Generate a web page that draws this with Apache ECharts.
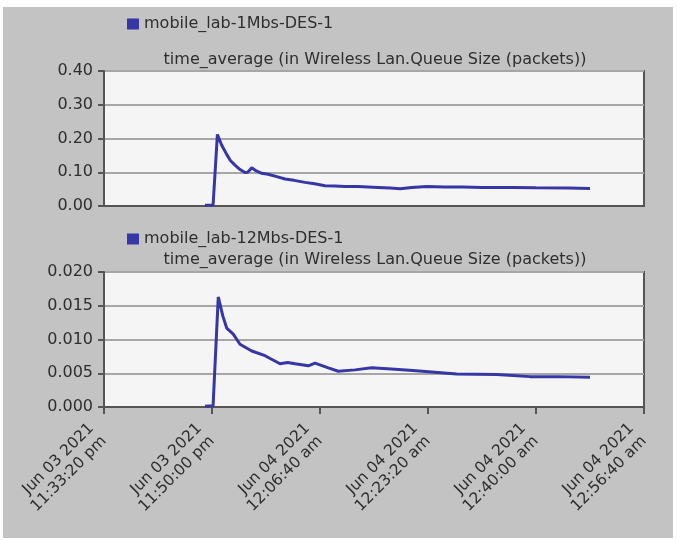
<!DOCTYPE html>
<html lang="en">
  <head>
    <meta charset="UTF-8" />
    <title>Queue Size</title>
    <script src="https://cdn.jsdelivr.net/npm/echarts@6/dist/echarts.min.js"></script>
    <style>
      body { margin: 0; background: #fff; }
    </style>
  </head>

  <body>
    <div id="main" style="width: 677px; height: 541px"></div>

    <script>
      // seconds since Jun 03 2021 11:33:20 pm
      var xTickLabels = [
        "Jun 03 2021\n11:33:20 pm",
        "Jun 03 2021\n11:50:00 pm",
        "Jun 04 2021\n12:06:40 am",
        "Jun 04 2021\n12:23:20 am",
        "Jun 04 2021\n12:40:00 am",
        "Jun 04 2021\n12:56:40 am",
      ];
      var seriesNames = ["mobile_lab-1Mbs-DES-1", "mobile_lab-12Mbs-DES-1"];
      var chartTitle = "time_average (in Wireless Lan.Queue Size (packets))";

      var t1 = [935, 1010, 1050, 1090, 1136, 1170, 1213, 1260, 1306, 1330, 1368, 1410, 1460, 1519, 1600, 1676, 1760, 1861, 1950, 2046, 2140, 2231, 2350, 2537, 2650, 2741, 2850, 2988, 3150, 3324, 3500, 3787, 4000, 4300, 4500];
      var v1 = [0.002, 0.003, 0.212, 0.18, 0.153, 0.135, 0.121, 0.108, 0.099, 0.1, 0.113, 0.104, 0.097, 0.094, 0.087, 0.08, 0.076, 0.07, 0.066, 0.06, 0.059, 0.058, 0.058, 0.055, 0.053, 0.051, 0.055, 0.058, 0.056, 0.056, 0.055, 0.055, 0.054, 0.053, 0.052];

      var t2 = [935, 1010, 1058, 1100, 1136, 1197, 1259, 1368, 1491, 1630, 1700, 1769, 1892, 1954, 2077, 2169, 2324, 2479, 2694, 2861, 3266, 3636, 3944, 4200, 4500];
      var v2 = [0.0001, 0.0002, 0.0163, 0.0135, 0.0117, 0.0108, 0.0093, 0.0083, 0.0076, 0.0064, 0.0066, 0.0064, 0.0061, 0.0065, 0.0058, 0.0053, 0.0055, 0.0058, 0.0056, 0.0054, 0.0049, 0.0048, 0.0045, 0.0045, 0.0044];

      function pairs(t, v) {
        var out = [];
        for (var i = 0; i < t.length; i++) out.push([t[i], v[i]]);
        return out;
      }

      var font = "DejaVu Sans";
      var lineColor = "#3636a6";
      var dark = "#555";
      var textColor = "#2e2e2e";

      var myChart = echarts.init(document.getElementById("main"));

      function yAxis(idx, max, step, digits) {
        return {
          type: "value",
          gridIndex: idx,
          min: 0,
          max: max,
          interval: step,
          axisLine: { show: true, lineStyle: { color: dark, width: 2 } },
          axisTick: { show: true, length: 6, lineStyle: { color: dark, width: 2 } },
          axisLabel: {
            color: textColor,
            fontFamily: font,
            fontSize: 16,
            margin: 11,
            formatter: function (v) { return v.toFixed(digits); },
          },
          splitLine: { lineStyle: { color: "#a6a6a6", width: 2 } },
        };
      }

      function legend(name, top) {
        return {
          data: [name],
          left: 127,
          top: top,
          padding: 0,
          icon: "rect",
          itemWidth: 12,
          itemHeight: 11,
          itemGap: 4,
          textStyle: { fontFamily: font, fontSize: 16, color: textColor },
        };
      }

      function title(top) {
        return {
          text: chartTitle,
          left: 370,
          top: top,
          textAlign: "center",
          textStyle: { fontFamily: font, fontSize: 16, fontWeight: "normal", color: textColor },
        };
      }

      var option = {
        backgroundColor: "#fff",
        animation: false,
        graphic: [
          {
            type: "rect",
            z: -10,
            shape: { x: 3, y: 7, width: 670, height: 531 },
            style: { fill: "#c3c3c3" },
          },
        ],
        title: [title(47), title(247)],
        legend: [legend(seriesNames[0], 16), legend(seriesNames[1], 231)],
        grid: [
          { left: 104, right: 33, top: 71, height: 135, show: true, backgroundColor: "#f5f5f5", borderColor: dark, borderWidth: 2 },
          { left: 104, right: 33, top: 272, height: 135, show: true, backgroundColor: "#f5f5f5", borderColor: dark, borderWidth: 2 },
        ],
        xAxis: [
          {
            type: "value",
            gridIndex: 0,
            min: 0,
            max: 5000,
            interval: 1000,
            axisLine: { show: true, lineStyle: { color: dark, width: 2 } },
            axisTick: { show: false },
            axisLabel: { show: false },
            splitLine: { show: false },
          },
          {
            type: "value",
            gridIndex: 1,
            min: 0,
            max: 5000,
            interval: 1000,
            axisLine: { show: true, lineStyle: { color: dark, width: 2 } },
            axisTick: { show: true, length: 7, lineStyle: { color: dark, width: 2 } },
            axisLabel: {
              rotate: 45,
              color: textColor,
              fontFamily: font,
              fontSize: 15.5,
              lineHeight: 18,
              margin: 19,
              padding: [0, 9, 0, 0],
              formatter: function (v) { return xTickLabels[Math.round(v / 1000)]; },
            },
            splitLine: { show: false },
          },
        ],
        yAxis: [yAxis(0, 0.4, 0.1, 2), yAxis(1, 0.02, 0.005, 3)],
        series: [
          {
            name: seriesNames[0],
            type: "line",
            xAxisIndex: 0,
            yAxisIndex: 0,
            showSymbol: false,
            color: lineColor,
            lineStyle: { width: 3, color: lineColor },
            data: pairs(t1, v1),
          },
          {
            name: seriesNames[1],
            type: "line",
            xAxisIndex: 1,
            yAxisIndex: 1,
            showSymbol: false,
            color: lineColor,
            lineStyle: { width: 3, color: lineColor },
            data: pairs(t2, v2),
          },
        ],
      };
      myChart.setOption(option);
    </script>
  </body>
</html>
